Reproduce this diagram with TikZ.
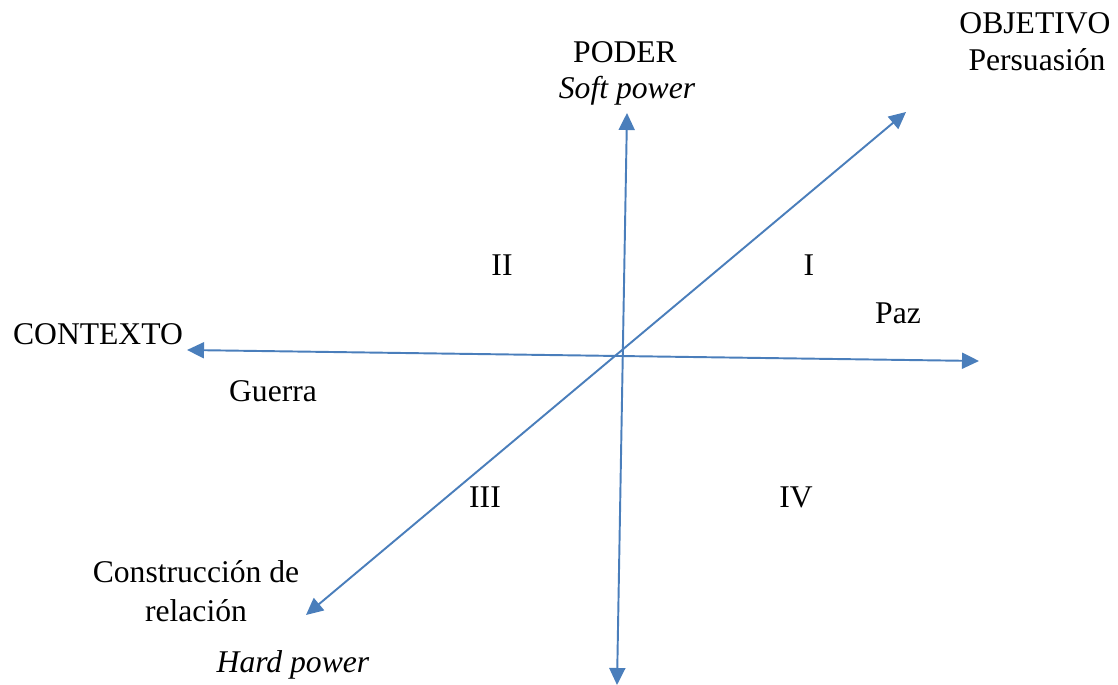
\documentclass[tikz,border=0pt]{standalone}
\usepackage{fontspec}
\setmainfont{Liberation Serif}
\usetikzlibrary{arrows.meta}
\definecolor{ejeblue}{HTML}{4A7EBB}

\begin{document}
\begin{tikzpicture}[
    x=0.02cm, y=-0.02cm,
    font=\fontsize{18}{22}\selectfont,
    eje/.style={{Triangle[length=3.4mm,width=3.2mm]}-{Triangle[length=3.4mm,width=3.2mm]}, line width=1.1pt, ejeblue},
    lbl/.style={inner sep=0pt, align=center},
    cuad/.style={inner sep=0pt}
  ]
    \useasboundingbox (0,0) rectangle (1118,685);
    % extremos de los ejes
    \coordinate (podtop) at (627,113);
    \coordinate (podbot) at (617,685);
    \coordinate (conl) at (187,350);
    \coordinate (conr) at (979,361);
    \coordinate (objtop) at (906,112);
    \coordinate (objbot) at (306,615);
    % ejes
    \draw[eje] (podbot) -- (podtop);
    \draw[eje] (conl) -- (conr);
    \draw[eje] (objbot) -- (objtop);
    % rotulos
    \node[lbl] (poder) at (625,52) {PODER};
    \node[lbl] (soft) at (627,91) {\itshape Soft power};
    \node[lbl] (objetivo) at (1035,23) {OBJETIVO};
    \node[lbl] (persuasion) at (1037,60) {Persuasión};
    \node[lbl] (contexto) at (98,334) {CONTEXTO};
    \node[lbl] (guerra) at (273,391) {Guerra};
    \node[lbl] (paz) at (898,313) {Paz};
    \node[lbl] (construccion) at (196,591) {Construcción de\\relación};
    \node[lbl] (hard) at (293,665) {\itshape Hard power};
    % cuadrantes
    \node[cuad] (q1) at (809,265) {I};
    \node[cuad] (q2) at (502,265) {II};
    \node[cuad] (q3) at (485,497) {III};
    \node[cuad] (q4) at (796,497) {IV};
  \end{tikzpicture}
\end{document}
